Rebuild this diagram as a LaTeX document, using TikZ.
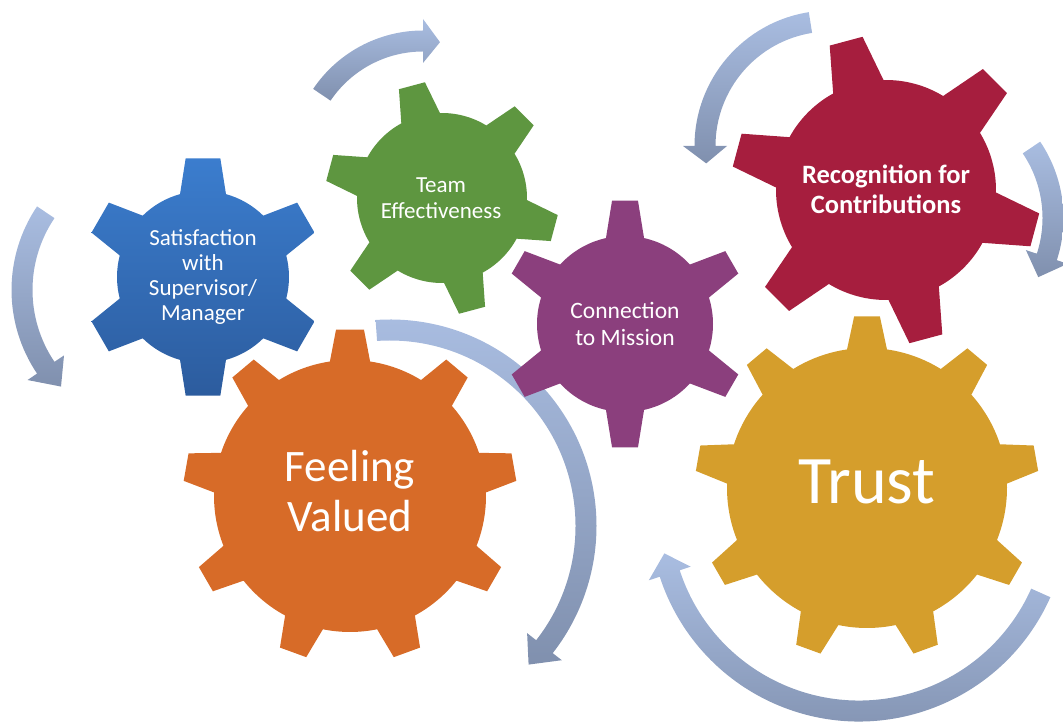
\documentclass[tikz,border=0pt]{standalone}
\usepackage{fontspec}
\newfontfamily\gearfont{Carlito}
\usetikzlibrary{positioning}

\definecolor{gearblue}{HTML}{3B7DCE}
\definecolor{gearbluedark}{HTML}{2C5C9E}
\definecolor{geargreen}{HTML}{5E9640}
\definecolor{gearpurple}{HTML}{8B3F7D}
\definecolor{gearred}{HTML}{A61E3E}
\definecolor{gearorange}{HTML}{D76B28}
\definecolor{geargold}{HTML}{D59E2C}
\definecolor{arrowtop}{HTML}{A9BDE1}
\definecolor{arrowbot}{HTML}{8090AE}

% n teeth, first tooth angle, body radius, outer radius, base half angle, top half angle
\newcommand\gearpath[6]{%
  ({#2-#5}:#3)
  \foreach \k in {1,...,#1}{
    -- ({#2+(\k-1)*360/#1-#6}:#4) -- ({#2+(\k-1)*360/#1+#6}:#4)
    -- ({#2+(\k-1)*360/#1+#5}:#3)
    arc[start angle={#2+(\k-1)*360/#1+#5}, end angle={#2+\k*360/#1-#5}, radius=#3]
  } -- cycle}

% center, radius, start angle, end angle, tip angle
\newcommand\cyclearrow[5]{%
  \shade[loopband, shift={#1}] ({#3}:{#2+10.5pt})
    arc[start angle=#3, end angle=#4, radius={#2+10.5pt}]
    -- ({#4}:{#2+22pt}) -- ({#5}:#2) -- ({#4}:{#2-22pt}) -- ({#4}:{#2-10.5pt})
    arc[start angle=#4, end angle=#3, radius={#2-10.5pt}] -- cycle;}

\tikzset{
  loopband/.style={top color=arrowtop, bottom color=arrowbot},
  gearlabel/.style={text=white, align=center, font=\gearfont\fontsize{23}{25}\selectfont}
}

\begin{document}
\begin{tikzpicture}[x=1pt,y=1pt]
  \useasboundingbox (0,0) rectangle (1063,726);
  \clip (0,0) rectangle (1063,726);

  % arrows
  \cyclearrow{(161,436)}{139pt}{146}{214}{224}
  \cyclearrow{(423,563)}{122pt}{146}{90}{82}
  \cyclearrow{(390,200)}{196pt}{94}{-38}{-45}
  \cyclearrow{(830,580)}{125pt}{99}{180}{188}
  \cyclearrow{(927,508)}{126pt}{34}{-18}{-28}
  \cyclearrow{(859,214)}{199pt}{-24}{-162}{-168}

  % gears
  \fill[gearorange, shift={(350,230)}] \gearpath{9}{90}{136pt}{167pt}{8.5}{4.8};
  \fill[geargold, shift={(867,238)}] \gearpath{9}{90}{140pt}{172pt}{8.2}{4.3};
  \shade[top color=gearblue, bottom color=gearbluedark, shift={(203,449)}] \gearpath{6}{90}{86pt}{120pt}{15.5}{8.3};
  \fill[geargreen, shift={(442,528)}] \gearpath{6}{105}{85pt}{117pt}{13.6}{6.6};
  \fill[gearred, shift={(886,536)}] \gearpath{6}{105}{110pt}{155pt}{13.7}{6.3};
  \fill[gearpurple, shift={(625,402)}] \gearpath{6}{90}{88pt}{124pt}{12.5}{6};

  % labels
  \node[gearlabel] (sat) at (203,449) {Satisfaction\\with\\Supervisor/\\Manager};
  \node[gearlabel, font=\gearfont\fontsize{23}{26}\selectfont] (team) at (441,528) {Team\\Effectiveness};
  \node[gearlabel, font=\gearfont\fontsize{23.5}{27}\selectfont] (mission) at (625,402) {Connection\\to Mission};
  \node[gearlabel, font=\gearfont\bfseries\fontsize{26.5}{30}\selectfont] (recog) at (886,537) {Recognition for\\Contributions};
  \node[gearlabel, font=\gearfont\fontsize{45}{50}\selectfont] (feel) at (350,235) {Feeling\\Valued};
  \node[gearlabel, font=\gearfont\fontsize{68}{70}\selectfont] (trust) at (867,244) {Trust};
\end{tikzpicture}
\end{document}
